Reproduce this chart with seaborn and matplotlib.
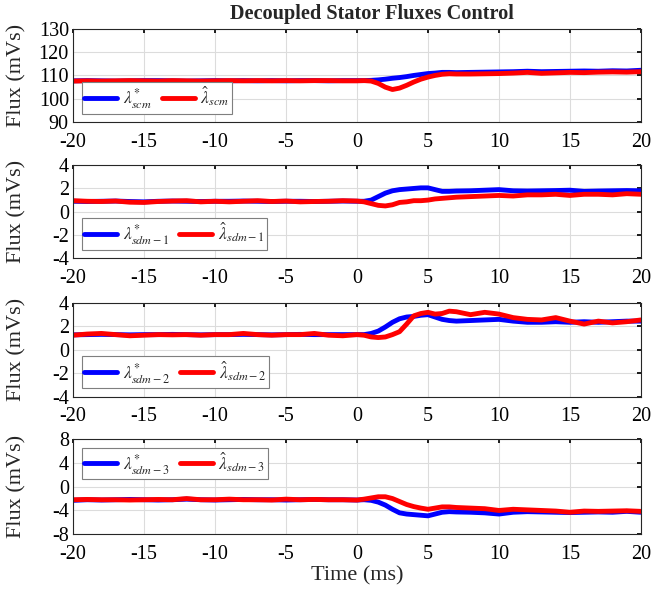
import numpy as np
import pandas as pd
import matplotlib
matplotlib.use("Agg")
import matplotlib.pyplot as plt
import seaborn as sns

# time axis (ms), finer steps around the transient
t = list(range(-20, 1)) + [0.5, 1, 1.5, 2, 2.5, 3, 3.5, 4, 4.5, 5, 5.5, 6, 6.5, 7] + list(range(8, 21))

# panel 1 - scm
scm_ref = [107.7, 107.8, 107.7, 107.6, 107.7, 107.8, 107.8, 107.7, 107.6, 107.7, 107.8, 107.7, 107.8, 107.7, 107.8,
           107.7, 107.8, 107.8, 107.7, 107.8, 107.8,
           107.8, 107.9, 108.1, 108.4, 108.8, 109.1, 109.5, 110.0, 110.4, 110.8, 111.0, 111.3, 111.3, 111.2,
           111.3, 111.4, 111.5, 111.6, 111.8, 111.6, 111.7, 111.8, 111.9, 111.8, 112.0, 111.9, 112.2]
scm_est = [107.6, 107.7, 107.6, 107.7, 107.8, 107.7, 107.6, 107.8, 107.7, 107.6, 107.7, 107.8, 107.7, 107.8, 107.7,
           107.8, 107.7, 107.8, 107.8, 107.7, 107.7,
           107.8, 107.6, 106.6, 105.0, 104.0, 104.6, 105.8, 107.2, 108.4, 109.3, 110.0, 110.5, 110.7, 110.6,
           110.6, 110.7, 110.8, 111.0, 111.3, 110.9, 111.1, 111.3, 111.2, 111.4, 111.5, 111.4, 111.6]

# panel 2 - sdm-1
sdm1_ref = [0.9, 0.88, 0.9, 0.92, 0.88, 0.85, 0.9, 0.92, 0.9, 0.88, 0.9, 0.9, 0.92, 0.9, 0.88, 0.9, 0.9, 0.88, 0.9,
            0.92, 0.9,
            0.9, 1.0, 1.3, 1.6, 1.8, 1.9, 1.95, 2.0, 2.05, 2.05, 1.9, 1.75, 1.75, 1.78,
            1.8, 1.85, 1.9, 1.8, 1.78, 1.8, 1.82, 1.85, 1.75, 1.78, 1.8, 1.82, 1.8]
sdm1_est = [0.95, 0.9, 0.88, 0.92, 0.82, 0.8, 0.88, 0.92, 0.95, 0.85, 0.9, 0.85, 0.9, 0.95, 0.88, 0.92, 0.85, 0.88,
            0.9, 0.95, 0.92,
            0.85, 0.7, 0.55, 0.5, 0.6, 0.8, 0.85, 0.95, 0.95, 1.0, 1.1, 1.15, 1.2, 1.25,
            1.3, 1.35, 1.4, 1.35, 1.45, 1.45, 1.5, 1.4, 1.5, 1.5, 1.45, 1.55, 1.5]

# panel 3 - sdm-2
sdm2_ref = [1.28, 1.3, 1.32, 1.3, 1.28, 1.3, 1.3, 1.32, 1.3, 1.28, 1.3, 1.3, 1.32, 1.3, 1.28, 1.3, 1.32, 1.3, 1.3,
            1.3, 1.3,
            1.3, 1.4, 1.6, 1.95, 2.35, 2.65, 2.8, 2.85, 2.95, 3.0, 2.8, 2.6, 2.5, 2.45,
            2.5, 2.55, 2.6, 2.45, 2.35, 2.35, 2.4, 2.35, 2.4, 2.35, 2.4, 2.45, 2.45]
sdm2_est = [1.25, 1.35, 1.4, 1.3, 1.2, 1.25, 1.3, 1.28, 1.3, 1.25, 1.3, 1.3, 1.4, 1.3, 1.25, 1.3, 1.3, 1.4, 1.25,
            1.2, 1.3,
            1.25, 1.1, 1.05, 1.1, 1.3, 1.55, 2.2, 2.9, 3.1, 3.2, 3.05, 3.1, 3.3, 3.25,
            3.0, 3.2, 3.05, 2.75, 2.6, 2.55, 2.75, 2.45, 2.2, 2.45, 2.3, 2.4, 2.55]

# panel 4 - sdm-3
sdm3_ref = [-2.3, -2.2, -2.25, -2.2, -2.15, -2.2, -2.25, -2.2, -2.1, -2.2, -2.25, -2.2, -2.15, -2.2, -2.2, -2.25,
            -2.2, -2.15, -2.2, -2.2, -2.25,
            -2.2, -2.3, -2.6, -3.1, -3.8, -4.4, -4.6, -4.7, -4.8, -4.9, -4.6, -4.3, -4.2, -4.25,
            -4.3, -4.4, -4.6, -4.3, -4.2, -4.25, -4.3, -4.35, -4.3, -4.25, -4.3, -4.15, -4.3]
sdm3_est = [-2.2, -2.15, -2.2, -2.2, -2.25, -2.2, -2.15, -2.2, -2.0, -2.2, -2.2, -2.1, -2.2, -2.2, -2.25, -2.1,
            -2.2, -2.15, -2.2, -2.2, -2.25,
            -2.1, -1.9, -1.7, -1.7, -2.0, -2.5, -3.0, -3.35, -3.6, -3.8, -3.6, -3.4, -3.4, -3.5,
            -3.6, -3.7, -4.0, -3.8, -3.9, -4.0, -4.1, -4.3, -4.1, -4.15, -4.1, -4.05, -4.15]

subscripts = ['scm', 'sdm-1', 'sdm-2', 'sdm-3']
ylims = [(90, 130), (-4, 4), (-4, 4), (-8, 8)]
yticks = [[90, 100, 110, 120, 130], [-4, -2, 0, 2, 4], [-4, -2, 0, 2, 4], [-8, -4, 0, 4, 8]]
legend_locs = ['lower left', 'lower left', 'lower left', 'upper left']
series = [(scm_ref, scm_est), (sdm1_ref, sdm1_est), (sdm2_ref, sdm2_est), (sdm3_ref, sdm3_est)]

sns.set_theme(style="whitegrid")
plt.rcParams['font.family'] = ['Liberation Serif', 'DejaVu Serif']
plt.rcParams['mathtext.fontset'] = 'stix'
plt.rcParams['axes.unicode_minus'] = False

fig = plt.figure(figsize=(6.52, 5.94), dpi=100)
# axes positions (left, bottom, width, height) in figure fractions
positions = [(0.112, 0.794, 0.871, 0.158),
             (0.112, 0.565, 0.871, 0.157),
             (0.112, 0.332, 0.871, 0.158),
             (0.112, 0.1005, 0.871, 0.1605)]

for i in range(4):
    ax = fig.add_axes(positions[i])
    ref, est = series[i]
    sub = subscripts[i]
    df = pd.DataFrame({'t': t, 'ref': ref, 'est': est})
    sns.lineplot(data=df, x='t', y='ref', ax=ax, color='#0000ff', lw=3.5,
                 label=r'$\lambda^{*}_{' + sub + '}$')
    sns.lineplot(data=df, x='t', y='est', ax=ax, color='#ff0000', lw=3.5,
                 label=r'$\hat{\lambda}_{' + sub + '}$')
    ax.set_xlim(-20, 20)
    ax.set_ylim(*ylims[i])
    ax.set_xticks(range(-20, 21, 5))
    ax.set_yticks(yticks[i])
    ax.set_facecolor('white')
    ax.grid(True, color='#dcdcdc', lw=0.8)
    for s in ax.spines.values():
        s.set_color('#262626')
        s.set_linewidth(0.8)
    ax.tick_params(labelsize=14.5, colors='black', direction='in', length=3,
                   top=True, right=True)
    ax.tick_params(axis='x', pad=7.5)
    ax.tick_params(axis='y', pad=3)
    ax.set_xlabel('')
    ax.set_ylabel('Flux (mVs)', fontsize=16)
    ax.yaxis.set_label_coords(-0.082, 0.5)
    leg = ax.legend(loc=legend_locs[i], ncol=2, fontsize=12.5, handlelength=1.9, handletextpad=0.3,
                    columnspacing=0.6, borderpad=0.15, borderaxespad=0.5, fancybox=False, framealpha=1)
    leg.get_frame().set_edgecolor('#7f7f7f')
    leg.get_frame().set_linewidth(0.8)
    if i == 3:
        ax.set_xlabel('Time (ms)', fontsize=16, labelpad=2)

fig.text(0.57, 0.976, 'Decoupled Stator Fluxes Control', ha='center', va='center',
         fontsize=14.6, fontweight='bold')

plt.savefig('out.png', dpi=100)
